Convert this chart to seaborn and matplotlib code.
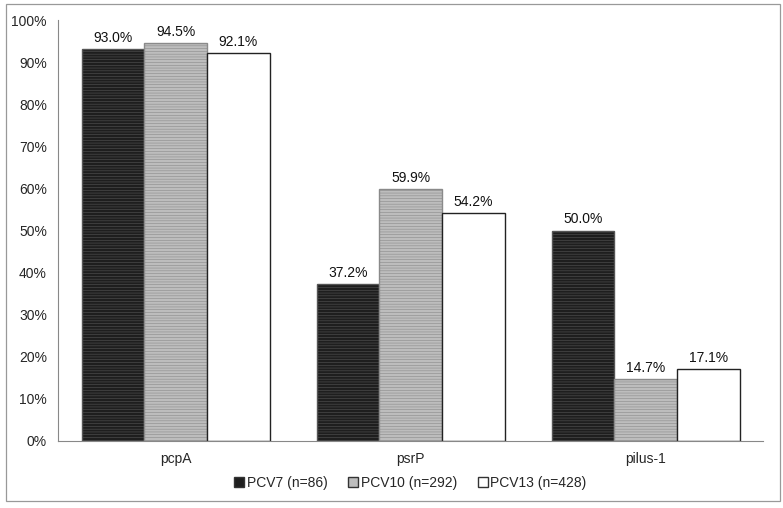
import numpy as np
import pandas as pd
import matplotlib
matplotlib.use("Agg")
import matplotlib.pyplot as plt
import seaborn as sns
from matplotlib.patches import Rectangle

genes = ["pcpA", "psrP", "pilus-1"]
groups = ["PCV7 (n=86)", "PCV10 (n=292)", "PCV13 (n=428)"]
pcv7 = [93.0, 37.2, 50.0]
pcv10 = [94.5, 59.9, 14.7]
pcv13 = [92.1, 54.2, 17.1]

df = pd.DataFrame({
    "gene": genes * 3,
    "group": [groups[0]] * 3 + [groups[1]] * 3 + [groups[2]] * 3,
    "pct": pcv7 + pcv10 + pcv13,
})

sns.set_style("white")
plt.rcParams["font.family"] = ["Liberation Sans", "DejaVu Sans"]
plt.rcParams["hatch.linewidth"] = 0.4

fig = plt.figure(figsize=(7.83, 5.08), dpi=100)
ax = fig.add_axes([0.0741, 0.1319, 0.9004, 0.8287])

palette = ["#1e1e1e", "#bdbdbd", "#ffffff"]
sns.barplot(data=df, x="gene", y="pct", hue="group", palette=palette,
            width=0.8, edgecolor="#222222", linewidth=1.0, ax=ax, legend=True)

# faint horizontal line texture in the filled bars
hatch_cols = ["#555555", "#8a8a8a", None]
for cont, hc in zip(ax.containers, hatch_cols):
    for p in cont:
        if hc is not None:
            p.set_hatch("------")
            p.set_edgecolor(hc)
    ax.bar_label(cont, labels=[f"{v:.1f}%" for v in cont.datavalues],
                 padding=3, fontsize=10, color="#111111")

ax.set_ylim(0, 100)
ax.set_yticks(np.arange(0, 101, 10))
ax.set_yticklabels([f"{v}%" for v in range(0, 101, 10)], fontsize=10)
ax.tick_params(axis="x", labelsize=10, length=0, pad=8)
ax.tick_params(axis="y", length=0, pad=8)
ax.set_xlabel("")
ax.set_ylabel("")
for s in ["top", "right"]:
    ax.spines[s].set_visible(False)
for s in ["left", "bottom"]:
    ax.spines[s].set_color("#888888")
    ax.spines[s].set_linewidth(0.8)

handles, labels = ax.get_legend_handles_labels()
for h in handles:
    h.set_hatch(None)
    h.set_edgecolor("#333333")
ax.legend(handles, labels, loc="center", bbox_to_anchor=(0.5, -0.1),
          ncol=3, frameon=False, fontsize=10, handlelength=0.7,
          handleheight=0.7, handletextpad=0.2, columnspacing=1.5)

fig.add_artist(Rectangle((6 / 783, 7 / 508), 774 / 783, 497 / 508,
                         transform=fig.transFigure, fill=False,
                         edgecolor="#999999", linewidth=0.9))

fig.savefig("out.png", dpi=100)
